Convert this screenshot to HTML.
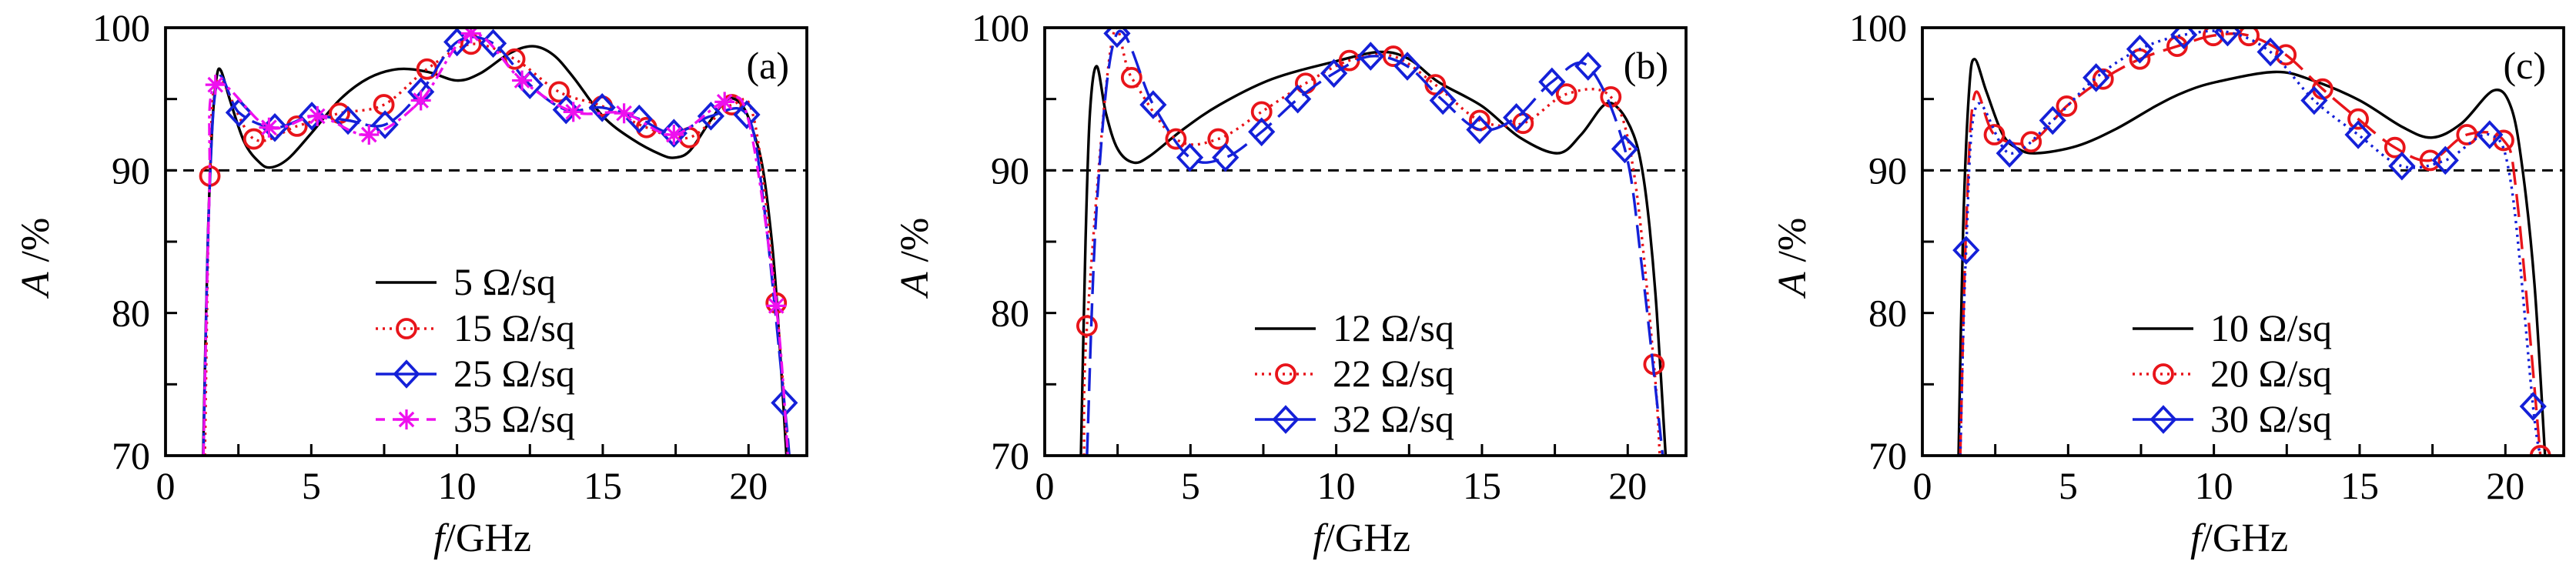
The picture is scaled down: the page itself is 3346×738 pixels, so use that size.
<!DOCTYPE html>
<html><head><meta charset="utf-8"><style>
html,body{margin:0;padding:0;background:#fff;}
svg{display:block;font-family:"Liberation Serif",serif;}
</style></head><body>
<svg id="fig" width="3346" height="738" viewBox="0 0 3346 738" xmlns="http://www.w3.org/2000/svg"></svg>
<script>
// ---------- Panel (a) data ----------
const aBlackF=[1.29,1.45,1.6,1.75,1.9,2.2,2.7,3.2,3.6,4.2,5,6,7,8,9,10,10.8,11.8,12.6,13.3,14,15,16,17,17.5,18,18.7,19.3,19.8,20.2,20.5,20.8,21.0,21.3];
const aBlackA=[70,85,93,96.5,97,95,92,90.6,90.2,90.8,92.6,95,96.5,97.1,96.9,96.3,96.8,98.2,98.7,98.1,96.5,93.8,92.2,91.1,90.9,91.4,93.5,95,94.5,92.5,90,85,80,70];
const aRedF=[1.35,1.52,1.8,3.03,4.51,5.97,7.49,8.97,10.48,11.98,13.5,14.98,16.5,17.97,19.43,20.2,20.95,21.35];
const aRedA=[70,89.6,96.3,92.2,93.1,94.0,94.6,97.1,98.85,97.8,95.5,94.5,93.0,92.3,94.6,93.5,80.7,70];
const aRedMF=[1.52,3.03,4.51,5.97,7.49,8.97,10.48,11.98,13.5,14.98,16.5,17.97,19.43,20.95];
const aRedMA=[89.6,92.2,93.1,94.0,94.6,97.1,98.85,97.8,95.5,94.5,93.0,92.3,94.6,80.7];
const aBlueF=[1.3,1.5,1.8,2.52,3.75,5.02,6.26,7.53,8.76,10.0,11.24,12.5,13.74,14.98,16.25,17.44,18.71,19.94,20.5,21.23,21.4];
const aBlueA=[70,88,96.4,94.05,93.0,93.8,93.5,93.2,95.5,99.0,98.9,96.0,94.25,94.4,93.6,92.6,93.8,93.9,88,73.7,70];
const aBlueMF=[2.52,3.75,5.02,6.26,7.53,8.76,10.0,11.24,12.5,13.74,14.98,16.25,17.44,18.71,19.94,21.23];
const aBlueMA=[94.05,93.0,93.8,93.5,93.2,95.5,99.0,98.9,96.0,94.25,94.4,93.6,92.6,93.8,93.9,73.7];
const aMagF=[1.3,1.5,1.71,3.55,5.21,6.98,8.76,10.48,12.23,13.99,15.73,17.44,19.18,20.0,20.95,21.35];
const aMagA=[70,88,96.0,93.0,93.8,92.5,94.9,99.6,96.3,94.1,94.0,92.5,94.8,93.5,80.5,70];
const aMagMF=[1.71,3.55,5.21,6.98,8.76,10.48,12.23,13.99,15.73,17.44,19.18,20.95];
const aMagMA=[96.0,93.0,93.8,92.5,94.9,99.6,96.3,94.1,94.0,92.5,94.8,80.5];
// ---------- Panel (b) data ----------
const bBlackF=[1.24,1.4,1.55,1.78,2.1,2.5,3.04,3.6,4.7,6,7.8,9.9,11.5,12.5,13.5,15,16.3,17.6,18.4,19.2,19.7,20.2,20.5,20.75,21.0,21.3];
const bBlackA=[70,85,94,97.3,94,91.5,90.55,91,92.8,94.6,96.4,97.6,98.3,97.8,96.2,94.5,92.3,91.2,92.5,94.6,94.3,92.5,90,86,80,70];
const bRedF=[1.35,1.45,2.3,2.98,4.5,5.95,7.44,8.95,10.45,11.96,13.4,14.92,16.41,17.9,19.42,20.2,20.9,21.1];
const bRedA=[70,79.1,99,96.5,92.2,92.2,94.1,96.1,97.7,98.0,96.0,93.5,93.3,95.35,95.15,90,76.4,70];
const bRedMF=[1.45,2.98,4.5,5.95,7.44,8.95,10.45,11.96,13.4,14.92,16.41,17.9,19.42,20.9];
const bRedMA=[79.1,96.5,92.2,92.2,94.1,96.1,97.7,98.0,96.0,93.5,93.3,95.35,95.15,76.4];
const bBlueF=[1.45,1.8,2.48,3.72,4.98,6.2,7.44,8.68,9.92,11.18,12.44,13.66,14.92,16.18,17.4,18.64,19.9,20.5,21.2];
const bBlueA=[70,88,99.6,94.6,90.9,90.9,92.7,95.0,96.8,98.0,97.3,94.9,92.85,93.7,96.2,97.3,91.5,83,70];
const bBlueMF=[2.48,3.72,4.98,6.2,7.44,8.68,9.92,11.18,12.44,13.66,14.92,16.18,17.4,18.64,19.9];
const bBlueMA=[99.6,94.6,90.9,90.9,92.7,95.0,96.8,98.0,97.3,94.9,92.85,93.7,96.2,97.3,91.5];
// ---------- Panel (c) data ----------
const cBlackF=[1.24,1.4,1.6,1.79,2.2,2.76,3.3,3.92,5.3,6.64,8.0,9.0,10.1,12.1,13.4,15.0,16.5,17.5,18.5,19.6,20.2,20.6,21.0,21.36];
const cBlackA=[70,86,95.5,97.8,95.5,92.5,91.5,91.2,91.7,92.9,94.5,95.5,96.2,96.9,96.3,94.9,93.0,92.3,93.3,95.6,94.4,89.9,82,70];
const cRedF=[1.3,1.5,1.79,2.47,3.73,4.95,6.2,7.46,8.74,9.98,11.2,12.47,13.73,14.95,16.21,17.42,18.68,19.94,20.4,21.2];
const cRedA=[70,86,95.3,92.5,92.0,94.5,96.4,97.8,98.7,99.45,99.45,98.1,95.7,93.6,91.6,90.7,92.5,92.1,88,70];
const cRedMF=[2.47,3.73,4.95,6.2,7.46,8.74,9.98,11.2,12.47,13.73,14.95,16.21,17.42,18.68,19.94,21.2];
const cRedMA=[92.5,92.0,94.5,96.4,97.8,98.7,99.45,99.45,98.1,95.7,93.6,91.6,90.7,92.5,92.1,70];
const cBlueF=[1.3,1.5,1.85,2.99,4.47,5.96,7.46,8.97,10.47,11.94,13.44,14.95,16.45,17.94,19.46,20.2,20.95,21.2];
const cBlueA=[70,84.4,94.5,91.2,93.5,96.5,98.5,99.5,99.7,98.3,94.9,92.5,90.3,90.7,92.5,89,73.45,70];
const cBlueMF=[1.5,2.99,4.47,5.96,7.46,8.97,10.47,11.94,13.44,14.95,16.45,17.94,19.46,20.95];
const cBlueMA=[84.4,91.2,93.5,96.5,98.5,99.5,99.7,98.3,94.9,92.5,90.3,90.7,92.5,73.45];
// ---------- axis tick values ----------
const xTicks=[0,5,10,15,20];
const xMinor=[2.5,7.5,12.5,17.5];
const yTicks=[70,80,90,100];
const yMinor=[75,85,95];

const NS="http://www.w3.org/2000/svg";
const svg=document.getElementById('fig');
function mk(tag,attrs,parent){const e=document.createElementNS(NS,tag);for(const k in attrs)e.setAttribute(k,attrs[k]);(parent||svg).appendChild(e);return e;}

const W=833,H=556,Y0=36;
function smoothPath(pts){
  let d='M'+pts[0][0].toFixed(1)+','+pts[0][1].toFixed(1);
  for(let i=0;i<pts.length-1;i++){
    const p0=pts[Math.max(0,i-1)],p1=pts[i],p2=pts[i+1],p3=pts[Math.min(pts.length-1,i+2)];
    const c1x=p1[0]+(p2[0]-p0[0])/6,c1y=p1[1]+(p2[1]-p0[1])/6;
    const c2x=p2[0]-(p3[0]-p1[0])/6,c2y=p2[1]-(p3[1]-p1[1])/6;
    d+=' C'+c1x.toFixed(1)+','+c1y.toFixed(1)+' '+c2x.toFixed(1)+','+c2y.toFixed(1)+' '+p2[0].toFixed(1)+','+p2[1].toFixed(1);
  }
  return d;
}
function drawMarker(g,type,cx,cy,color){
  let m;
  if(type==='circle'){m=mk('ellipse',{cx:cx,cy:cy,rx:12,ry:12,fill:'none',stroke:color,'stroke-width':3.8},g);}
  else if(type==='diamond'){m=mk('polygon',{points:`${cx},${cy-16} ${cx+15},${cy} ${cx},${cy+16} ${cx-15},${cy}`,fill:'none',stroke:color,'stroke-width':3.8},g);}
  else {const r=13;let d='';for(let k=0;k<4;k++){const a=k*Math.PI/4;d+=`M${cx-r*Math.cos(a)},${cy-r*Math.sin(a)} L${cx+r*Math.cos(a)},${cy+r*Math.sin(a)} `;}
    m=mk('path',{d:d,stroke:color,'stroke-width':3.2,fill:'none'},g);}
  return m;
}

function panel(id,X0,label,series){
  const g=mk('g',{});
  
  
  const sx=v=>X0+v/22*W, sy=v=>Y0+H-(v-70)/30*H;
  const clipId='clip'+id;
  const cp=mk('clipPath',{id:clipId},g);mk('rect',{x:X0,y:Y0,width:W,height:H},cp);
  const ref=mk('line',{x1:X0,x2:X0+W,y1:sy(90),y2:sy(90),stroke:'#000','stroke-width':3,'stroke-dasharray':'14 9'},g);
  
  
  series.forEach(s=>{
    const sg=mk('g',{'clip-path':'url(#'+clipId+')'},g);
    
    
    const pts=s.f.map((f,i)=>[sx(f),sy(s.a[i])]);
    const p=mk('path',{d:smoothPath(pts),fill:'none',stroke:s.color,'stroke-width':3.4,'stroke-dasharray':s.dash||'none'},sg);
    
    
    if(s.mf){s.mf.forEach((f,i)=>{const m=drawMarker(sg,s.marker,sx(f),sy(s.ma[i]),s.color);
      
      });}
  });
  const fr=mk('rect',{x:X0,y:Y0,width:W,height:H,fill:'none',stroke:'#000','stroke-width':3.8},g);
  
  
  xTicks.forEach(v=>{mk('line',{x1:sx(v),x2:sx(v),y1:Y0+H,y2:Y0+H-15,stroke:'#000','stroke-width':3},g);
    const t=mk('text',{x:sx(v),y:648,'font-size':50,'text-anchor':'middle'},g);t.textContent=v;
    
    });
  xMinor.forEach(v=>mk('line',{x1:sx(v),x2:sx(v),y1:Y0+H,y2:Y0+H-15,stroke:'#000','stroke-width':3},g));
  yTicks.forEach(v=>{mk('line',{x1:X0,x2:X0+15,y1:sy(v),y2:sy(v),stroke:'#000','stroke-width':3},g);
    const t=mk('text',{x:X0-20,y:sy(v)+17,'font-size':50,'text-anchor':'end'},g);t.textContent=v;
    
    });
  yMinor.forEach(v=>mk('line',{x1:X0,x2:X0+15,y1:sy(v),y2:sy(v),stroke:'#000','stroke-width':3},g));
  const xt=mk('text',{x:X0+W/2-5,y:716,'font-size':52,'text-anchor':'middle'},g);
  xt.innerHTML='<tspan font-style="italic">f</tspan>/GHz';
  
  
  const yt=mk('text',{x:0,y:0,'font-size':52,'text-anchor':'middle',transform:`translate(${X0-152},${Y0+H/2+20}) rotate(-90)`},g);
  yt.innerHTML='<tspan font-style="italic">A</tspan> /%';
  
  
  const pl=mk('text',{x:X0+810,y:102,'font-size':50,'text-anchor':'end'},g);pl.textContent=label;
  
  
  const rows=series.length===4?[367,427,486,545]:[427,486,545];
  series.forEach((s,i)=>{
    const lg=mk('g',{},g);
    
    
    const y=rows[i];
    mk('line',{x1:X0+273,x2:X0+352,y1:y,y2:y,stroke:s.color,'stroke-width':3.4,'stroke-dasharray':s.legDash||'none'},lg);
    if(s.marker)drawMarker(lg,s.marker,X0+313,y,s.color);
    const t=mk('text',{x:X0+374,y:y+16,'font-size':50},lg);t.textContent=s.name;
  });
}

panel('a',215,'(a)',[
  {name:'5 Ω/sq',f:aBlackF,a:aBlackA,color:'#000'},
  {name:'15 Ω/sq',f:aRedF,a:aRedA,mf:aRedMF,ma:aRedMA,color:'#e8141a',dash:'3 6',legDash:'3 6',marker:'circle'},
  {name:'25 Ω/sq',f:aBlueF,a:aBlueA,mf:aBlueMF,ma:aBlueMA,color:'#1420d8',dash:'30 8',marker:'diamond'},
  {name:'35 Ω/sq',f:aMagF,a:aMagA,mf:aMagMF,ma:aMagMA,color:'#ee10ee',dash:'16 6 4 6',legDash:'12 10',marker:'star'}
]);
panel('b',1357,'(b)',[
  {name:'12 Ω/sq',f:bBlackF,a:bBlackA,color:'#000'},
  {name:'22 Ω/sq',f:bRedF,a:bRedA,mf:bRedMF,ma:bRedMA,color:'#e8141a',dash:'3 6',legDash:'3 6',marker:'circle'},
  {name:'32 Ω/sq',f:bBlueF,a:bBlueA,mf:bBlueMF,ma:bBlueMA,color:'#1420d8',dash:'30 12',marker:'diamond'}
]);
panel('c',2497,'(c)',[
  {name:'10 Ω/sq',f:cBlackF,a:cBlackA,color:'#000'},
  {name:'20 Ω/sq',f:cRedF,a:cRedA,mf:cRedMF,ma:cRedMA,color:'#e8141a',dash:'30 12',legDash:'3 6',marker:'circle'},
  {name:'30 Ω/sq',f:cBlueF,a:cBlueA,mf:cBlueMF,ma:cBlueMA,color:'#1420d8',dash:'3 6',marker:'diamond'}
]);
</script>
</body></html>
